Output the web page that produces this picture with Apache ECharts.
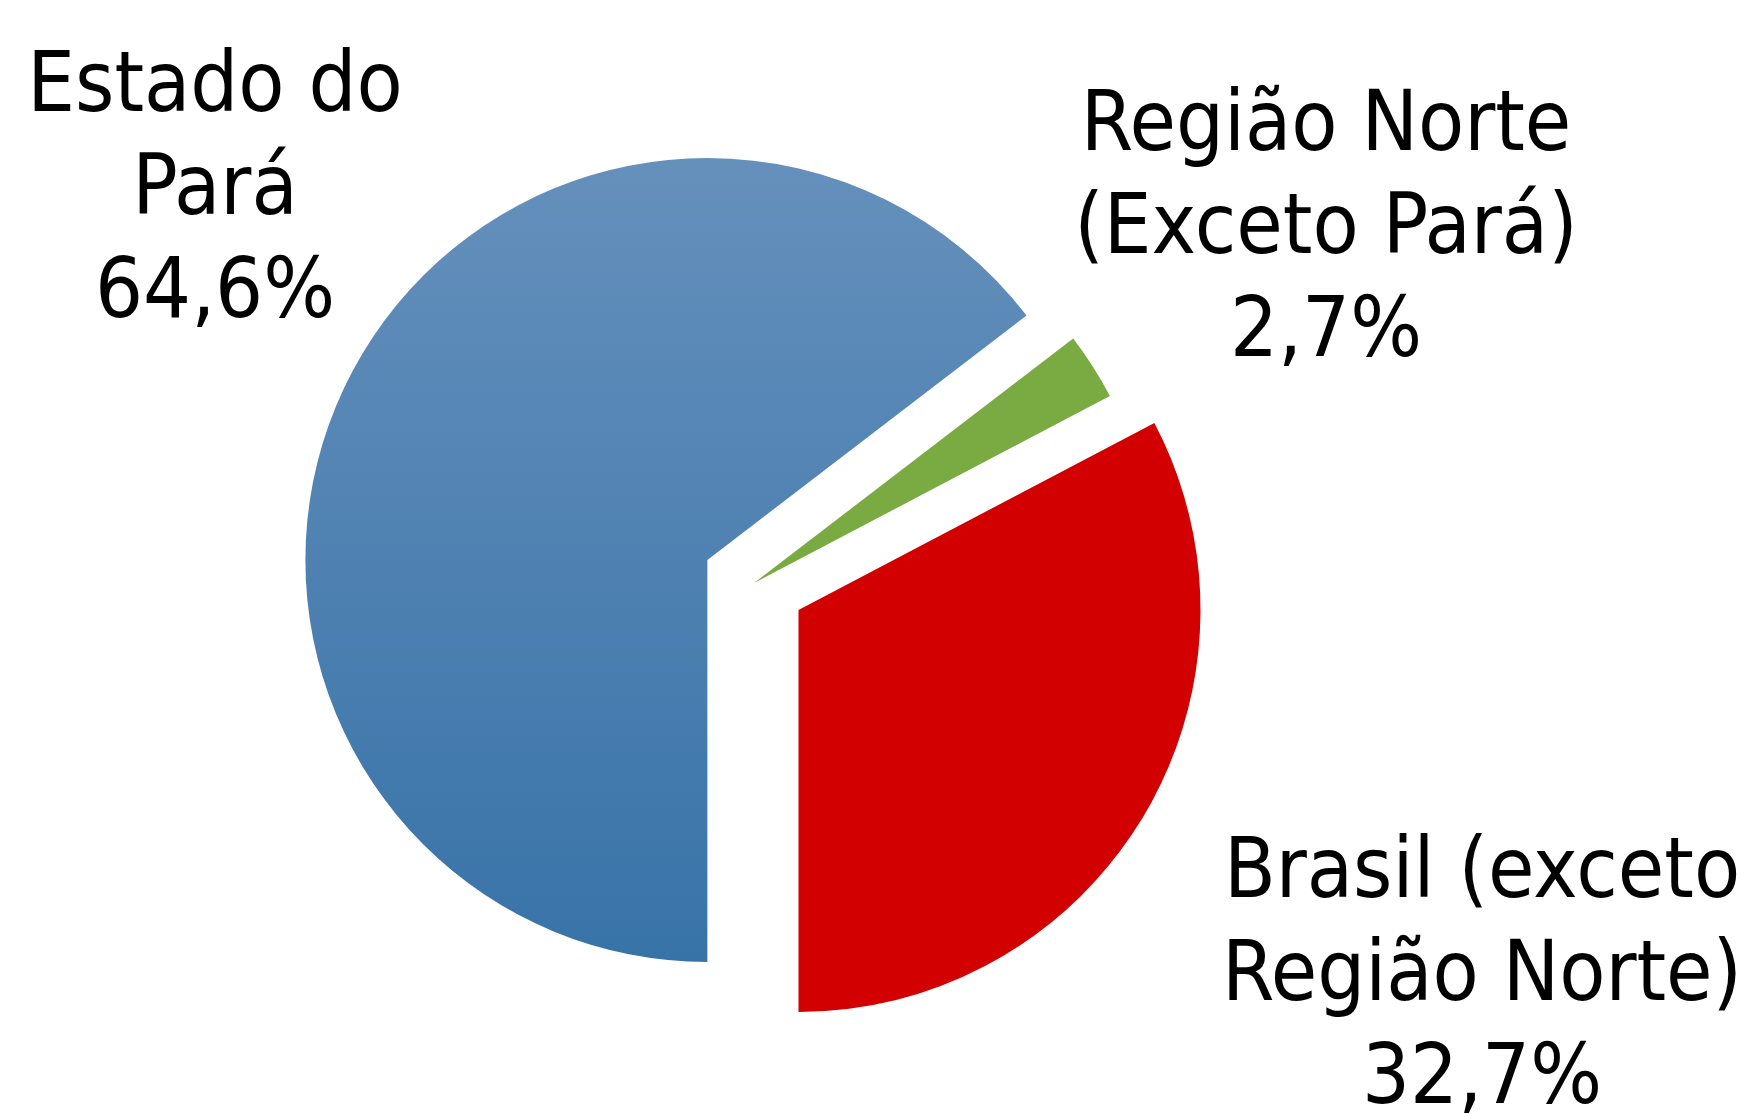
<!DOCTYPE html>
<html>
<head>
<meta charset="utf-8">
<script src="https://cdn.jsdelivr.net/npm/echarts@6/dist/echarts.min.js"></script>
<style>html,body{margin:0;padding:0;background:#fff;}#c{width:1748px;height:1113px;}</style>
</head>
<body>
<div id="c"></div>
<script>
const categories = ["Estado do\nPará", "Região Norte\n(Exceto Pará)", "Brasil (exceto\nRegião Norte)"];
const shares = [64.6, 2.7, 32.7];
const exploded = [true, false, true];

const colors = [
  new echarts.graphic.LinearGradient(0, 0, 0, 1, [
    { offset: 0, color: '#6590bc' },
    { offset: 1, color: '#3873a8' }
  ]),
  '#7aab43',
  '#d20000'
];
const labelPos = [[215, 192], [1326, 231], [1482, 978]];
const fmt = v => v.toFixed(1).replace('.', ',') + '%';

const chart = echarts.init(document.getElementById('c'));
chart.setOption({
  animation: false,
  backgroundColor: '#ffffff',
  graphic: categories.map((c, i) => ({
    type: 'text',
    x: labelPos[i][0],
    y: labelPos[i][1],
    silent: true,
    style: {
      text: c + '\n' + fmt(shares[i]),
      fontFamily: "'DejaVu Sans Condensed', 'Liberation Sans', sans-serif",
      fontSize: 84,
      lineHeight: 103,
      fill: '#000',
      align: 'center',
      verticalAlign: 'middle'
    }
  })),
  series: [{
    type: 'pie',
    center: [754, 583],
    radius: [0, 402],
    startAngle: 270,
    clockwise: true,
    selectedMode: 'multiple',
    selectedOffset: 52,
    emphasis: { disabled: true },
    label: { show: false },
    labelLine: { show: false },
    data: categories.map((c, i) => ({
      name: c,
      value: shares[i],
      selected: exploded[i],
      itemStyle: { color: colors[i] }
    }))
  }]
});
</script>
</body>
</html>
